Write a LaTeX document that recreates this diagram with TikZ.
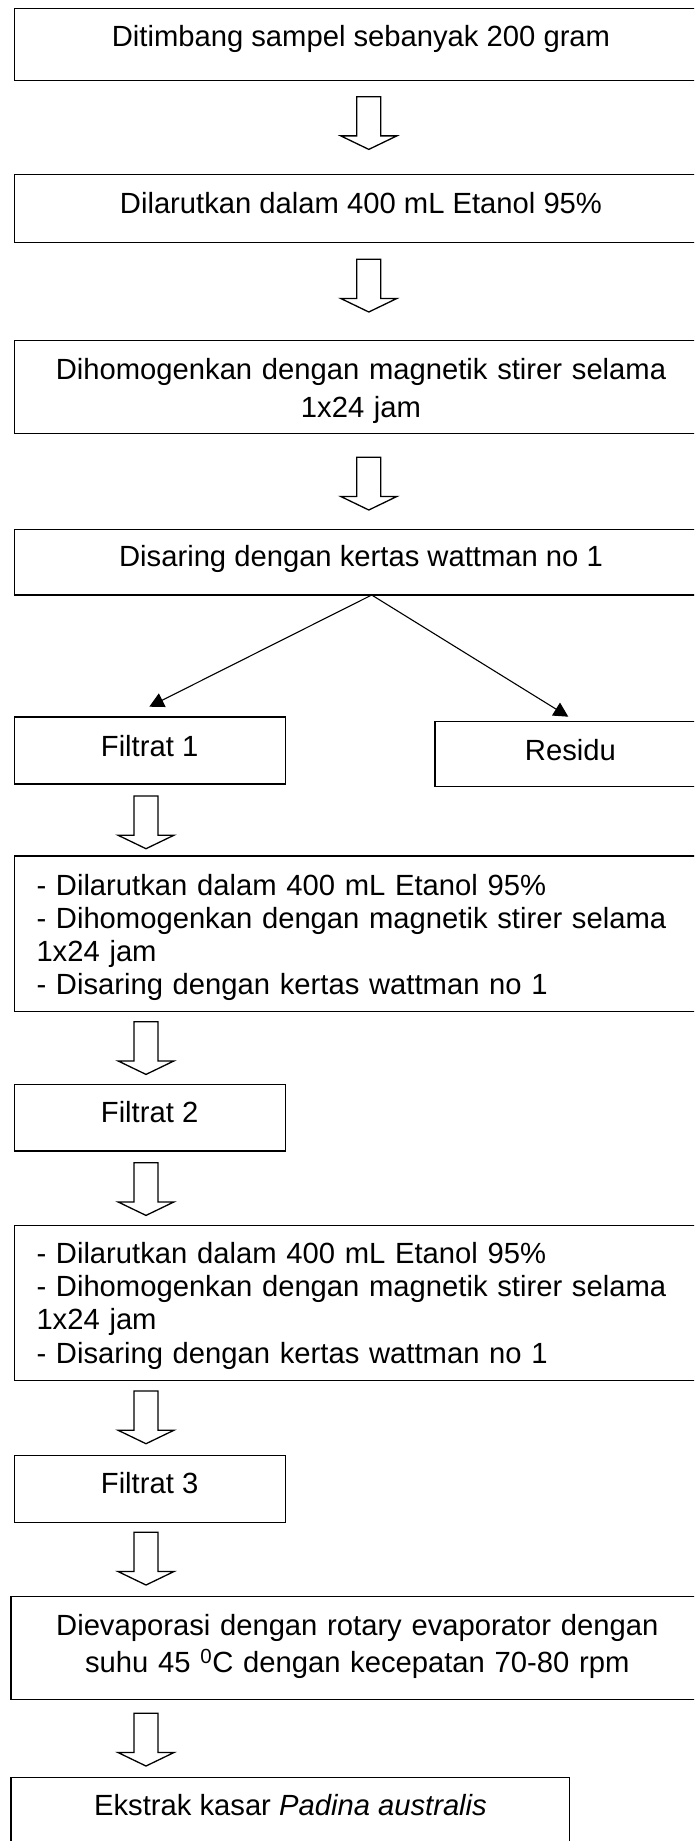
\documentclass[tikz,border=0pt]{standalone}
\usepackage{fontspec}
\setmainfont{Liberation Sans}
\usetikzlibrary{arrows.meta}
\newcommand\blockarr[2]{%
  \draw[hollow] (#1-12,#2) -- (#1+12,#2) -- (#1+12,#2+39.2) -- (#1+28,#2+39.2)
    -- (#1,#2+52.7) -- (#1-28,#2+39.2) -- (#1-12,#2+39.2) -- cycle;}
\begin{document}
\begin{tikzpicture}[x=1pt,y=-1pt,
  box/.style={draw, line width=1.5pt, rectangle, inner sep=0pt, outer sep=0pt, anchor=north west},
  txt/.style={font=\fontsize{29.2}{37.8}\selectfont, inner sep=0pt, anchor=base},
  ctxt/.style={txt, text width=680pt, align=center},
  ltxt/.style={font=\fontsize{29.2}{33.3}\selectfont, inner sep=0pt, anchor=base west, text width=655pt, align=left},
  hollow/.style={draw, line width=1.3pt, line join=miter},
  split/.style={draw, line width=1.1pt, -{Triangle[length=14.5pt,width=15pt]}}]
\useasboundingbox (0,0) rectangle (694,1841);
\clip (0,0) rectangle (694,1841);

% boxes
\node[box, minimum width=692.4pt, minimum height=72pt]  (b1) at (14.6,8.3) {};
\node[box, minimum width=692.4pt, minimum height=68pt]  (b2) at (14.6,174.3) {};
\node[box, minimum width=692.4pt, minimum height=92.6pt] (b3) at (14.6,340.7) {};
\node[box, minimum width=692.4pt, minimum height=65.7pt] (b4) at (14.6,529.3) {};
\node[box, minimum width=270.7pt, minimum height=67pt]  (f1) at (14.6,717) {};
\node[box, minimum width=271pt,   minimum height=65pt]  (re) at (435.2,721.7) {};
\node[box, minimum width=692.4pt, minimum height=155.7pt] (l1) at (14.6,856) {};
\node[box, minimum width=270.7pt, minimum height=66.7pt] (f2) at (14.6,1084.3) {};
\node[box, minimum width=692.4pt, minimum height=155pt] (l2) at (14.6,1225.7) {};
\node[box, minimum width=270.7pt, minimum height=66.6pt] (f3) at (14.6,1455.7) {};
\node[box, minimum width=693pt,   minimum height=102.6pt] (ev) at (11,1596.7) {};
\node[box, minimum width=558.7pt, minimum height=90pt]  (ek) at (11,1777.7) {};

% texts
\node[txt] (t1) at (361,46.7) {Ditimbang sampel sebanyak 200 gram};
\node[txt] (t2) at (361,213.3) {Dilarutkan dalam 400 mL Etanol 95\%};
\node[ctxt] (t3) at (361,379.3) {Dihomogenkan dengan magnetik stirer selama\\1x24 jam};
\node[txt] (t4) at (361,566.7) {Disaring dengan kertas wattman no 1};
\node[txt] (tf1) at (149.6,756) {Filtrat 1};
\node[txt] (tre) at (570.4,760) {Residu};
\node[ltxt] (tl1) at (36.3,895) {- Dilarutkan dalam 400 mL Etanol 95\%\\- Dihomogenkan dengan magnetik stirer selama\\1x24 jam\\- Disaring dengan kertas wattman no 1};
\node[txt] (tf2) at (149.6,1122.7) {Filtrat 2};
\node[ltxt] (tl2) at (36.3,1263.3) {- Dilarutkan dalam 400 mL Etanol 95\%\\- Dihomogenkan dengan magnetik stirer selama\\1x24 jam\\- Disaring dengan kertas wattman no 1};
\node[txt] (tf3) at (149.6,1493.3) {Filtrat 3};
\node[ctxt] (tev) at (357.3,1635) {Dievaporasi dengan rotary evaporator dengan\\suhu 45 \textsuperscript{0}C dengan kecepatan 70-80 rpm};
\node[txt] (tek) at (290.5,1815) {Ekstrak kasar \textit{Padina australis}};

% block arrows
\blockarr{368.8}{96.7}
\blockarr{368.8}{259.3}
\blockarr{368.8}{457.3}
\blockarr{146}{796}
\blockarr{146}{1021.7}
\blockarr{146}{1162.7}
\blockarr{146}{1391}
\blockarr{146}{1532.3}
\blockarr{146}{1713.3}

% split arrows
\coordinate (sp) at (371.7,595);
\coordinate (lt) at (149.3,706.7);
\coordinate (rt) at (568.3,716.7);
\draw[split] (sp) -- (lt);
\draw[split] (sp) -- (rt);
\end{tikzpicture}
\end{document}
